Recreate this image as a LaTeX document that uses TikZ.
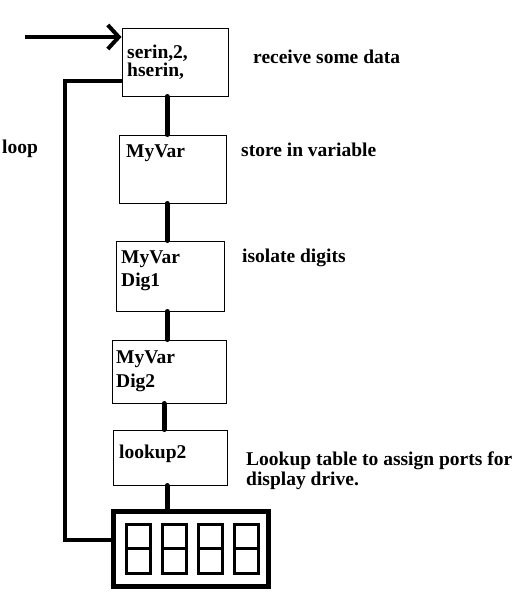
\documentclass[tikz,border=0pt]{standalone}
\usepackage{fontspec}
\setmainfont{Liberation Serif}
\usetikzlibrary{arrows.meta}

\begin{document}
\begin{tikzpicture}[
        x=1pt, y=-1pt,
        box/.style={rectangle, draw=black, line width=1pt, inner sep=0pt},
        link/.style={line width=5pt, line cap=round},
        arrow/.style={-{Straight Barb[length=11pt, width=24pt, line width=4pt]}, line width=4pt},
        loopline/.style={line width=4pt},
        seg/.style={line width=3pt},
        txt/.style={anchor=base west, inner sep=0pt, align=left, font=\bfseries\fontsize{19.5}{22}\selectfont}
    ]
    \useasboundingbox (0,0) rectangle (527,605);

    \node[box, minimum width=106pt, minimum height=68pt] (recv) at (175,62) {};
    \node[box, minimum width=107pt, minimum height=68pt] (store) at (172.5,169) {};
    \node[box, minimum width=108pt, minimum height=70pt] (dig1) at (170,276) {};
    \node[box, minimum width=114pt, minimum height=63pt] (dig2) at (169,371.5) {};
    \node[box, minimum width=114pt, minimum height=55pt] (look) at (170,457.5) {};
    \node[rectangle, draw=black, line width=5pt, inner sep=0pt, minimum width=155pt, minimum height=75pt] (disp) at (191,549) {};

    \node[txt, font=\bfseries\fontsize{19.5}{18}\selectfont] (recvtxt) at (127,76) {serin,2,\\hserin,};
    \node[txt] (storetxt) at (126,157) {MyVar};
    \node[txt, font=\bfseries\fontsize{19.5}{23}\selectfont] (dig1txt) at (121,286) {MyVar\\Dig1};
    \node[txt, font=\bfseries\fontsize{19.5}{24}\selectfont] (dig2txt) at (116,387) {MyVar\\Dig2};
    \node[txt] (looktxt) at (119,458) {lookup2};

    \node[txt] (note1) at (253,63) {receive some data};
    \node[txt] (note2) at (241,156) {store in variable};
    \node[txt] (note3) at (242,262) {isolate digits};
    \node[txt, font=\bfseries\fontsize{19.5}{20}\selectfont] (note4) at (246,485) {Lookup table to assign ports for\\display drive.};
    \node[txt] (looplbl) at (2,153) {loop};

    \coordinate (col) at (167,0);
    \draw[link] (recv.south -| col) -- (store.north -| col);
    \draw[link] (store.south -| col) -- (dig1.north -| col);
    \draw[link] (dig1.south -| col) -- (dig2.north -| col);
    \draw[link] ([xshift=-3pt]dig2.south -| col) -- ([xshift=-3pt]look.north -| col);
    \draw[link] (look.south -| col) -- (disp.north -| col);

    \coordinate (src) at (25,37);
    \draw[arrow] (src) -- (src -| recv.west);

    \coordinate (lp) at (65,81);
    \draw[loopline] (recv.west |- lp) -- (lp) |- ([yshift=9pt]disp.west);

    \foreach \i in {0,...,3} {
        \draw[seg] ({126.5+36*\i},524.5) rectangle ++(24,49);
        \draw[seg] ({126.5+36*\i},548.5) -- ++(24,0);
    }
\end{tikzpicture}
\end{document}
